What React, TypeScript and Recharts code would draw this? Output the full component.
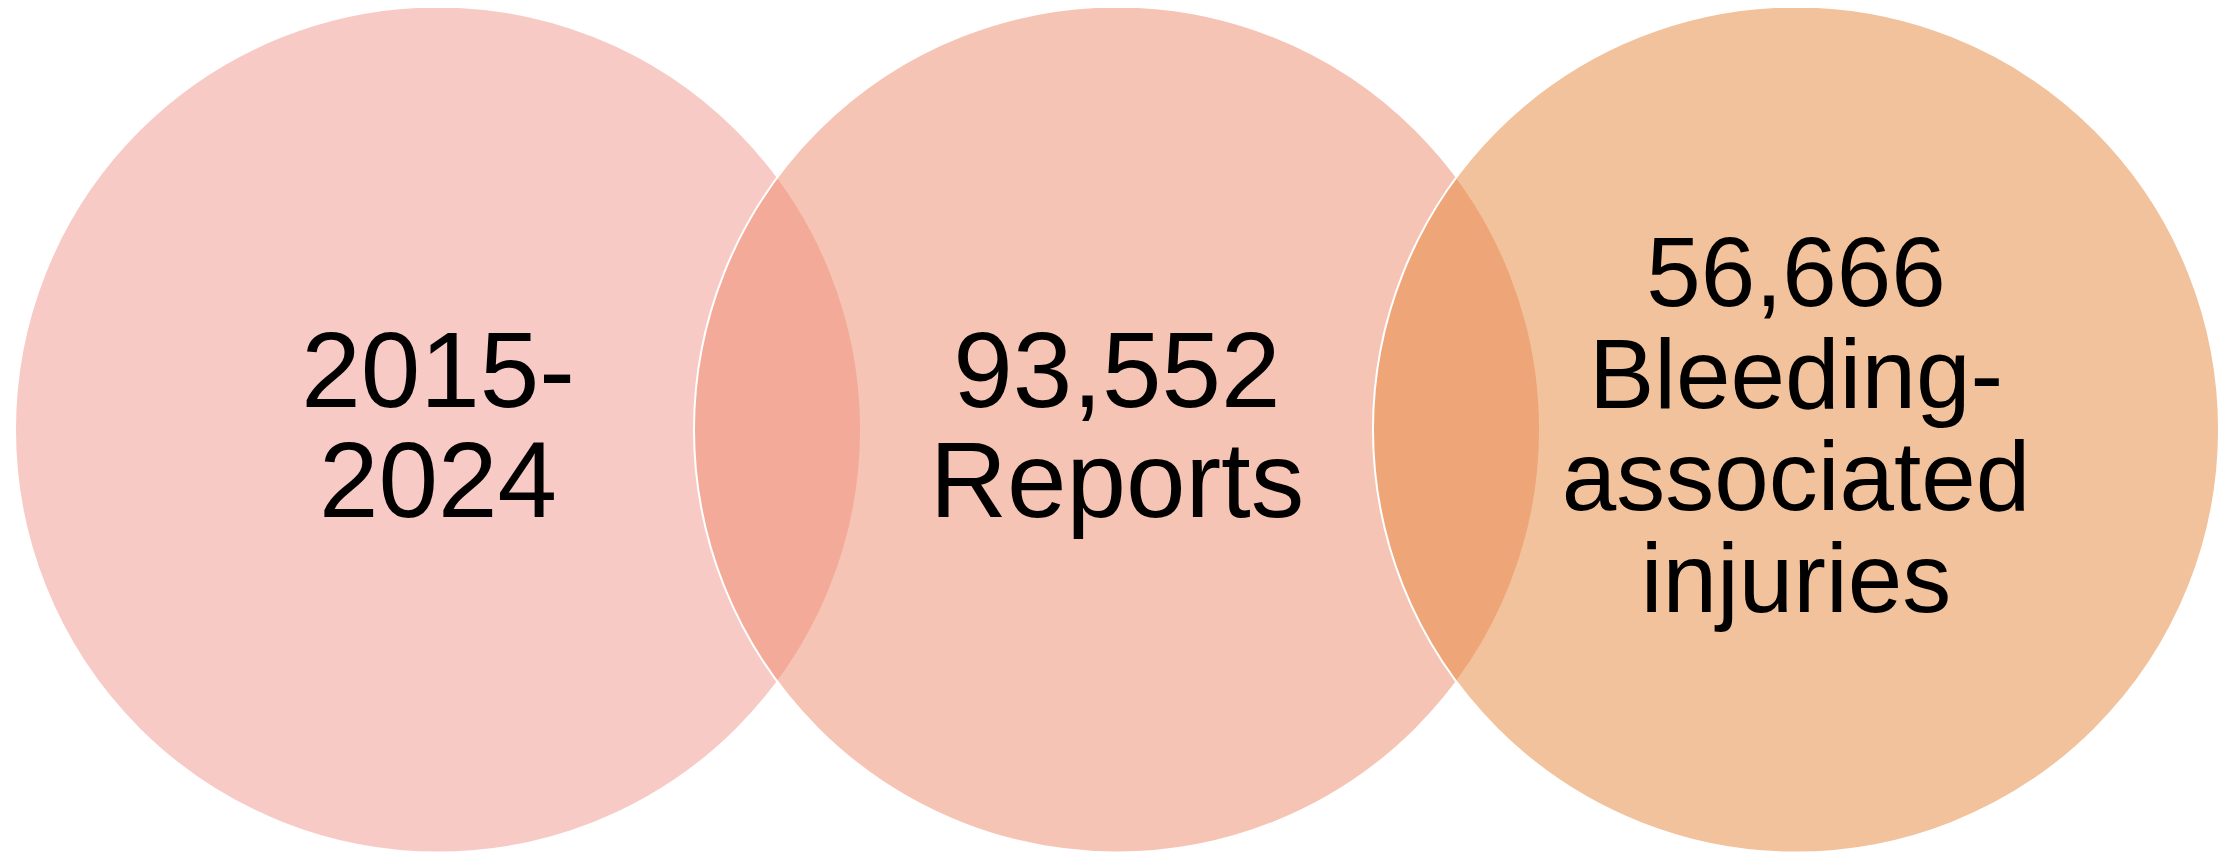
import { ScatterChart, Scatter, XAxis, YAxis } from 'recharts';

// three overlapping sets, left to right
const setNames = ['Period', 'Reports', 'Bleeding-associated injuries'];
const setLines = [
  ['2015-', '2024'],
  ['93,552', 'Reports'],
  ['56,666', 'Bleeding-', 'associated', 'injuries'],
];
const centerX = [1, 2, 3];
const centerY = [0, 0, 0];
const radius = [0.623, 0.623, 0.623];

const CHART_W = 2220;
const CHART_H = 845;
const UNIT = 679; // px between circle centres
const X_MIN = 0.3667;
const X_MAX = X_MIN + CHART_W / UNIT;
const Y_MAX = 421.5 / UNIT;
const Y_MIN = Y_MAX - CHART_H / UNIT;
const PX_PER_UNIT = CHART_W / (X_MAX - X_MIN);

const fills = ['#F1958D', '#ED8969', '#E58539'];
const fontSizes = [107, 107, 98];
const lineHeights = [110, 110, 102];

const data = setNames.map((name, i) => ({
  name,
  x: centerX[i],
  y: centerY[i],
  r: radius[i],
  lines: setLines[i],
  idx: i,
}));

const VennCircle = (props: any) => {
  const { cx, cy, payload } = props;
  const i = payload.idx;
  const r = payload.r * PX_PER_UNIT;
  const fs = fontSizes[i];
  const lh = lineHeights[i];
  const n = payload.lines.length;
  return (
    <g>
      <circle
        cx={cx}
        cy={cy}
        r={r}
        fill={fills[i]}
        fillOpacity={0.5}
        stroke="#ffffff"
        strokeWidth={2}
      />
      <text
        x={cx}
        textAnchor="middle"
        fontFamily="Arial, 'Liberation Sans', sans-serif"
        fontSize={fs}
        fill="#000000"
      >
        {payload.lines.map((line: string, k: number) => (
          <tspan key={k} x={cx} y={cy + (k - (n - 1) / 2) * lh + fs * 0.3}>
            {line}
          </tspan>
        ))}
      </text>
    </g>
  );
};

export default function App() {
  return (
    <ScatterChart
      width={CHART_W}
      height={CHART_H}
      margin={{ top: 0, right: 0, bottom: 0, left: 0 }}
    >
      <XAxis type="number" dataKey="x" domain={[X_MIN, X_MAX]} hide allowDataOverflow />
      <YAxis type="number" dataKey="y" domain={[Y_MIN, Y_MAX]} hide allowDataOverflow />
      <Scatter data={data} shape={VennCircle} isAnimationActive={false} />
    </ScatterChart>
  );
}
